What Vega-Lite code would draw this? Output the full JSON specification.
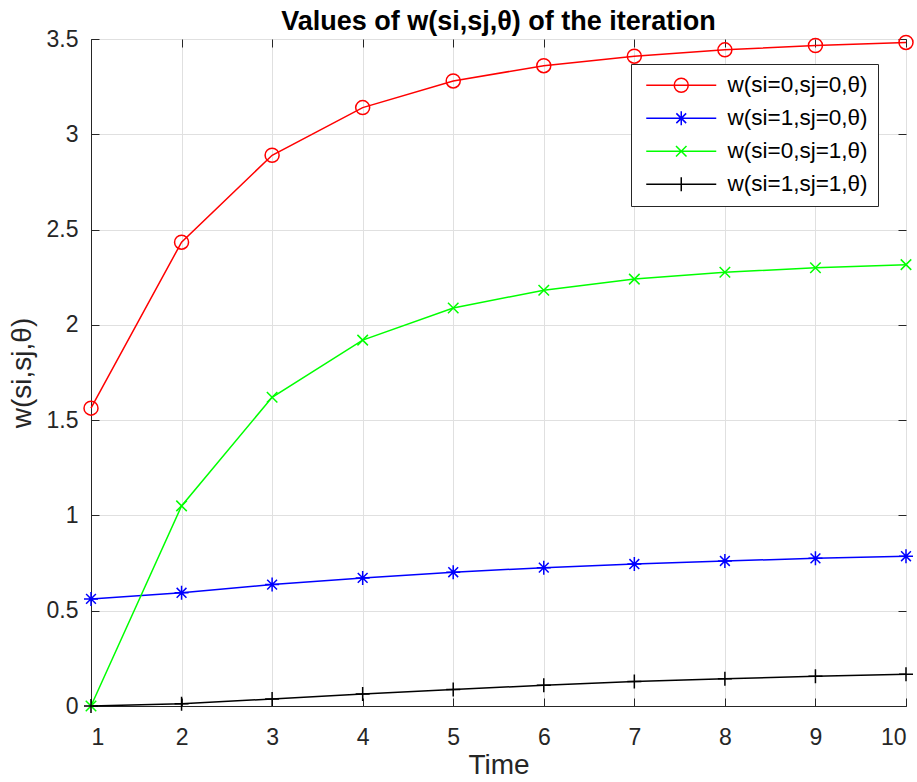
{
  "$schema": "https://vega.github.io/schema/vega-lite/v6.json",
  "width": 815,
  "height": 667,
  "autosize": {"type": "none"},
  "padding": {"left": 91, "top": 39, "right": 11, "bottom": 76},
  "title": {"text": "Values of w(si,sj,θ) of the iteration", "font": "Liberation Sans", "fontSize": 27, "fontWeight": "bold", "color": "#000000", "offset": -8},
  "config": {
    "view": {"stroke": "#262626", "strokeWidth": 1},
    "axis": {
      "domainColor": "#262626", "tickColor": "#262626", "tickWidth": 1, "gridColor": "#e0e0e0", "gridWidth": 1,
      "labelFont": "Liberation Sans", "labelFontSize": 23, "labelColor": "#262626",
      "titleFont": "Liberation Sans", "titleFontSize": 28, "titleFontWeight": "normal", "titleColor": "#262626"
    }
  },
  "data": {"values": [
    {"t": 1, "s": "w(si=0,sj=0,θ)", "w": 1.563},
    {"t": 2, "s": "w(si=0,sj=0,θ)", "w": 2.434},
    {"t": 3, "s": "w(si=0,sj=0,θ)", "w": 2.89},
    {"t": 4, "s": "w(si=0,sj=0,θ)", "w": 3.14},
    {"t": 5, "s": "w(si=0,sj=0,θ)", "w": 3.28},
    {"t": 6, "s": "w(si=0,sj=0,θ)", "w": 3.36},
    {"t": 7, "s": "w(si=0,sj=0,θ)", "w": 3.41},
    {"t": 8, "s": "w(si=0,sj=0,θ)", "w": 3.443},
    {"t": 9, "s": "w(si=0,sj=0,θ)", "w": 3.466},
    {"t": 10, "s": "w(si=0,sj=0,θ)", "w": 3.482},
    {"t": 1, "s": "w(si=1,sj=0,θ)", "w": 0.562},
    {"t": 2, "s": "w(si=1,sj=0,θ)", "w": 0.594},
    {"t": 3, "s": "w(si=1,sj=0,θ)", "w": 0.637},
    {"t": 4, "s": "w(si=1,sj=0,θ)", "w": 0.672},
    {"t": 5, "s": "w(si=1,sj=0,θ)", "w": 0.702},
    {"t": 6, "s": "w(si=1,sj=0,θ)", "w": 0.726},
    {"t": 7, "s": "w(si=1,sj=0,θ)", "w": 0.745},
    {"t": 8, "s": "w(si=1,sj=0,θ)", "w": 0.761},
    {"t": 9, "s": "w(si=1,sj=0,θ)", "w": 0.775},
    {"t": 10, "s": "w(si=1,sj=0,θ)", "w": 0.786},
    {"t": 1, "s": "w(si=0,sj=1,θ)", "w": 0.0},
    {"t": 2, "s": "w(si=0,sj=1,θ)", "w": 1.05},
    {"t": 3, "s": "w(si=0,sj=1,θ)", "w": 1.62},
    {"t": 4, "s": "w(si=0,sj=1,θ)", "w": 1.92},
    {"t": 5, "s": "w(si=0,sj=1,θ)", "w": 2.088},
    {"t": 6, "s": "w(si=0,sj=1,θ)", "w": 2.182},
    {"t": 7, "s": "w(si=0,sj=1,θ)", "w": 2.24},
    {"t": 8, "s": "w(si=0,sj=1,θ)", "w": 2.276},
    {"t": 9, "s": "w(si=0,sj=1,θ)", "w": 2.3},
    {"t": 10, "s": "w(si=0,sj=1,θ)", "w": 2.316},
    {"t": 1, "s": "w(si=1,sj=1,θ)", "w": 0.0},
    {"t": 2, "s": "w(si=1,sj=1,θ)", "w": 0.012},
    {"t": 3, "s": "w(si=1,sj=1,θ)", "w": 0.037},
    {"t": 4, "s": "w(si=1,sj=1,θ)", "w": 0.063},
    {"t": 5, "s": "w(si=1,sj=1,θ)", "w": 0.087},
    {"t": 6, "s": "w(si=1,sj=1,θ)", "w": 0.109},
    {"t": 7, "s": "w(si=1,sj=1,θ)", "w": 0.128},
    {"t": 8, "s": "w(si=1,sj=1,θ)", "w": 0.143},
    {"t": 9, "s": "w(si=1,sj=1,θ)", "w": 0.156},
    {"t": 10, "s": "w(si=1,sj=1,θ)", "w": 0.166}
  ]},
  "layer": [
    {
      "mark": {"type": "line", "strokeWidth": 1.5},
      "encoding": {
        "x": {"field": "t", "type": "quantitative", "scale": {"domain": [1, 10], "nice": false, "zero": false},
              "axis": {"orient": "bottom", "title": "Time", "values": [1,2,3,4,5,6,7,8,9,10], "format": "d", "grid": true, "ticks": false, "labelPadding": 20, "titlePadding": 2}},
        "y": {"field": "w", "type": "quantitative", "scale": {"domain": [0, 3.5], "nice": false},
              "axis": {"orient": "left", "title": "w(si,sj,θ)", "values": [0,0.5,1,1.5,2,2.5,3,3.5], "format": "~g", "grid": true, "ticks": false, "labelPadding": 13, "titlePadding": 10}},
        "color": {"field": "s", "type": "nominal",
          "scale": {"domain": ["w(si=0,sj=0,θ)", "w(si=1,sj=0,θ)", "w(si=0,sj=1,θ)", "w(si=1,sj=1,θ)"], "range": ["#ff0000", "#0000ff", "#00ff00", "#000000"]},
          "legend": {
            "title": null, "orient": "none", "legendX": 540, "legendY": 25,
            "labelFont": "Liberation Sans", "labelFontSize": 22.5, "labelColor": "#000000",
            "padding": 10, "symbolOffset": 29, "labelOffset": 35, "rowPadding": 10,
            "symbolSize": 196, "strokeColor": "#262626", "fillColor": "#ffffff",
            "encode": {"symbols": {"update": {
              "shape": {"signal": "['M-5,0L5,0M-1,0A1,1 0 1,0 1,0A1,1 0 1,0 -1,0','M-5,0L5,0M0,-1L0,1M-0.7,-0.7L0.7,0.7M-0.7,0.7L0.7,-0.7','M-5,0L5,0M-0.75,-0.75L0.75,0.75M-0.75,0.75L0.75,-0.75','M-5,0L5,0M0,-1L0,1'][indexof(['w(si=0,sj=0,θ)','w(si=1,sj=0,θ)','w(si=0,sj=1,θ)','w(si=1,sj=1,θ)'], datum.value)]"},
              "fill": {"value": "transparent"},
              "strokeWidth": {"value": 1.5},
              "size": {"value": 196}
            }}}
          }}
      }
    },
    {
      "mark": {"type": "point", "filled": false, "strokeWidth": 1.5, "size": 196, "opacity": 1},
      "encoding": {
        "x": {"field": "t", "type": "quantitative", "scale": {"domain": [1, 10], "nice": false, "zero": false},
              "axis": {"orient": "top", "offset": -667, "title": null, "labels": false, "grid": false, "domain": false, "values": [1,2,3,4,5,6,7,8,9,10], "tickSize": 8}},
        "y": {"field": "w", "type": "quantitative", "scale": {"domain": [0, 3.5], "nice": false},
              "axis": {"orient": "right", "offset": -815, "title": null, "labels": false, "grid": false, "domain": false, "values": [0,0.5,1,1.5,2,2.5,3,3.5], "tickSize": 8}},
        "color": {"field": "s", "type": "nominal",
          "scale": {"domain": ["w(si=0,sj=0,θ)", "w(si=1,sj=0,θ)", "w(si=0,sj=1,θ)", "w(si=1,sj=1,θ)"], "range": ["#ff0000", "#0000ff", "#00ff00", "#000000"]},
          "legend": {
            "title": null, "orient": "none", "legendX": 540, "legendY": 25,
            "labelFont": "Liberation Sans", "labelFontSize": 22.5, "labelColor": "#000000",
            "padding": 10, "symbolOffset": 29, "labelOffset": 35, "rowPadding": 10,
            "symbolSize": 196, "strokeColor": "#262626", "fillColor": "#ffffff",
            "encode": {"symbols": {"update": {
              "shape": {"signal": "['M-5,0L5,0M-1,0A1,1 0 1,0 1,0A1,1 0 1,0 -1,0','M-5,0L5,0M0,-1L0,1M-0.7,-0.7L0.7,0.7M-0.7,0.7L0.7,-0.7','M-5,0L5,0M-0.75,-0.75L0.75,0.75M-0.75,0.75L0.75,-0.75','M-5,0L5,0M0,-1L0,1'][indexof(['w(si=0,sj=0,θ)','w(si=1,sj=0,θ)','w(si=0,sj=1,θ)','w(si=1,sj=1,θ)'], datum.value)]"},
              "fill": {"value": "transparent"},
              "strokeWidth": {"value": 1.5},
              "size": {"value": 196}
            }}}
          }},
        "shape": {"field": "s", "type": "nominal",
          "scale": {"domain": ["w(si=0,sj=0,θ)", "w(si=0,sj=1,θ)", "w(si=1,sj=0,θ)", "w(si=1,sj=1,θ)"],
                    "range": ["M-1,0A1,1 0 1,0 1,0A1,1 0 1,0 -1,0", "M-0.75,-0.75L0.75,0.75M-0.75,0.75L0.75,-0.75", "M-1,0L1,0M0,-1L0,1M-0.7,-0.7L0.7,0.7M-0.7,0.7L0.7,-0.7", "M-1,0L1,0M0,-1L0,1"]},
          "legend": null}
      }
    },
    {
      "mark": {"type": "point", "opacity": 0},
      "encoding": {
        "x": {"field": "t", "type": "quantitative", "scale": {"domain": [1, 10], "nice": false, "zero": false},
              "axis": {"orient": "bottom", "offset": -667, "title": null, "labels": false, "grid": false, "domain": false, "values": [1,2,3,4,5,6,7,8,9,10], "tickSize": 8}},
        "y": {"field": "w", "type": "quantitative", "scale": {"domain": [0, 3.5], "nice": false},
              "axis": {"orient": "left", "offset": -815, "title": null, "labels": false, "grid": false, "domain": false, "values": [0,0.5,1,1.5,2,2.5,3,3.5], "tickSize": 8}}
      }
    }
  ],
  "resolve": {"axis": {"x": "independent", "y": "independent"}}
}
